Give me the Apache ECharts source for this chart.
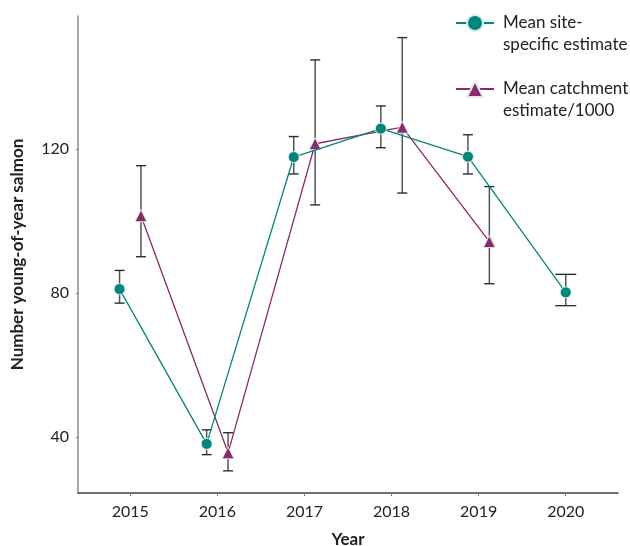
<!DOCTYPE html>
<html>
<head>
<meta charset="utf-8">
<script src="https://cdn.jsdelivr.net/npm/echarts@6/dist/echarts.min.js"></script>
<style>
  html, body { margin: 0; padding: 0; background: #fff; }
  #chart { width: 630px; height: 546px; }
</style>
</head>
<body>
<div id="chart"></div>
<script>
// Young-of-year salmon: yearly means with error bars
const years = [2015, 2016, 2017, 2018, 2019, 2020];
const yTicks = [40, 80, 120];

const siteMean = [81.1, 38.1, 117.8, 125.7, 117.9, 80.2];
const siteLow  = [77.2, 35.1, 113.1, 120.4, 113.1, 76.5];
const siteHigh = [86.3, 42.0, 123.5, 132.0, 124.0, 85.2];

const catchMean = [101.5, 35.6, 121.5, 126.1, 94.3, null];
const catchLow  = [90.1, 30.6, 104.5, 107.8, 82.6, null];
const catchHigh = [115.4, 41.2, 144.8, 151.0, 109.6, null];

const SITE_NAME = 'Mean site-\nspecific estimate';
const CATCH_NAME = 'Mean catchment\nestimate/1000';
const TEAL = '#00877a';
const PLUM = '#8a2a6a';
const FONT = 'Lato';

// side-by-side dodge when both estimates exist for a year
const DODGE = 0.123;
function paired(i) { return siteMean[i] != null && catchMean[i] != null; }
function xPos(i, side) { return years[i] + (paired(i) ? side * DODGE : 0); }

function points(mean, side) {
  const out = [];
  mean.forEach((v, i) => { if (v != null) out.push([xPos(i, side), v]); });
  return out;
}
function bars(mean, low, high, side) {
  const out = [];
  mean.forEach((v, i) => {
    if (v != null) out.push([xPos(i, side), low[i], high[i], paired(i) ? 5 : 10.5]);
  });
  return out;
}

function renderErrorBar(params, api) {
  const x = api.value(0);
  const lo = api.coord([x, api.value(1)]);
  const hi = api.coord([x, api.value(2)]);
  const half = api.value(3);
  const stroke = { stroke: '#2e2e2e', lineWidth: 1.4 };
  return {
    type: 'group',
    children: [
      { type: 'line', shape: { x1: hi[0], y1: hi[1], x2: lo[0], y2: lo[1] }, style: { stroke: '#555', lineWidth: 1.5 } },
      { type: 'line', shape: { x1: hi[0] - half, y1: hi[1], x2: hi[0] + half, y2: hi[1] }, style: stroke },
      { type: 'line', shape: { x1: lo[0] - half, y1: lo[1], x2: lo[0] + half, y2: lo[1] }, style: stroke }
    ]
  };
}

const chart = echarts.init(document.getElementById('chart'), null, { renderer: 'canvas' });

chart.setOption({
  animation: false,
  backgroundColor: '#fff',
  textStyle: { fontFamily: FONT },
  grid: { left: 78, right: 12, top: 16, bottom: 53, containLabel: false, outerBoundsMode: 'none' },
  legend: {
    orient: 'vertical',
    left: 455,
    top: -10,
    padding: 0,
    itemGap: 0,
    itemWidth: 38,
    itemHeight: 20,
    data: [SITE_NAME, CATCH_NAME],
    // leading blank line keeps the icon level with the first text line
    formatter: name => '\n' + name,
    textStyle: { fontFamily: FONT, fontSize: 17, color: '#222', lineHeight: 22, padding: [0, 0, 0, 4] }
  },
  xAxis: {
    type: 'value',
    min: 2014.4,
    max: 2020.6,
    name: 'Year',
    nameLocation: 'middle',
    nameGap: 38,
    nameTextStyle: { fontFamily: FONT, fontSize: 17, fontWeight: 'bold', color: '#222' },
    splitLine: { show: false },
    axisLine: { lineStyle: { color: '#444', width: 1.5 } },
    axisTick: { show: true, length: 3, inside: false, customValues: years, lineStyle: { color: '#777' } },
    axisLabel: { customValues: years, fontFamily: FONT, fontSize: 16, color: '#222', margin: 11, formatter: v => String(v) }
  },
  yAxis: {
    type: 'value',
    min: 24.44,
    max: 157,
    name: 'Number young-of-year salmon',
    nameLocation: 'middle',
    nameGap: 52,
    nameTextStyle: { fontFamily: FONT, fontSize: 17, fontWeight: 'bold', color: '#222' },
    splitLine: { show: false },
    axisLine: { show: true, lineStyle: { color: '#888', width: 1.5 } },
    axisTick: { show: true, length: 2, customValues: yTicks, lineStyle: { color: '#777' } },
    axisLabel: { customValues: yTicks, fontFamily: FONT, fontSize: 16, color: '#222', margin: 9, formatter: v => String(v) }
  },
  series: [
    {
      name: 'siteErr', type: 'custom', z: 1, renderItem: renderErrorBar,
      data: bars(siteMean, siteLow, siteHigh, -1), silent: true
    },
    {
      name: 'catchErr', type: 'custom', z: 1, renderItem: renderErrorBar,
      data: bars(catchMean, catchLow, catchHigh, 1), silent: true
    },
    {
      name: CATCH_NAME, type: 'line', z: 3,
      data: points(catchMean, 1),
      symbol: 'triangle', symbolSize: 12,
      lineStyle: { color: PLUM, width: 1.3 },
      itemStyle: { color: PLUM, borderColor: '#dcebf0', borderWidth: 1 }
    },
    {
      name: SITE_NAME, type: 'line', z: 4,
      data: points(siteMean, -1),
      symbol: 'circle', symbolSize: 11,
      lineStyle: { color: TEAL, width: 1.3 },
      itemStyle: { color: TEAL, borderColor: '#dcebf0', borderWidth: 1 }
    }
  ]
});
</script>
</body>
</html>
